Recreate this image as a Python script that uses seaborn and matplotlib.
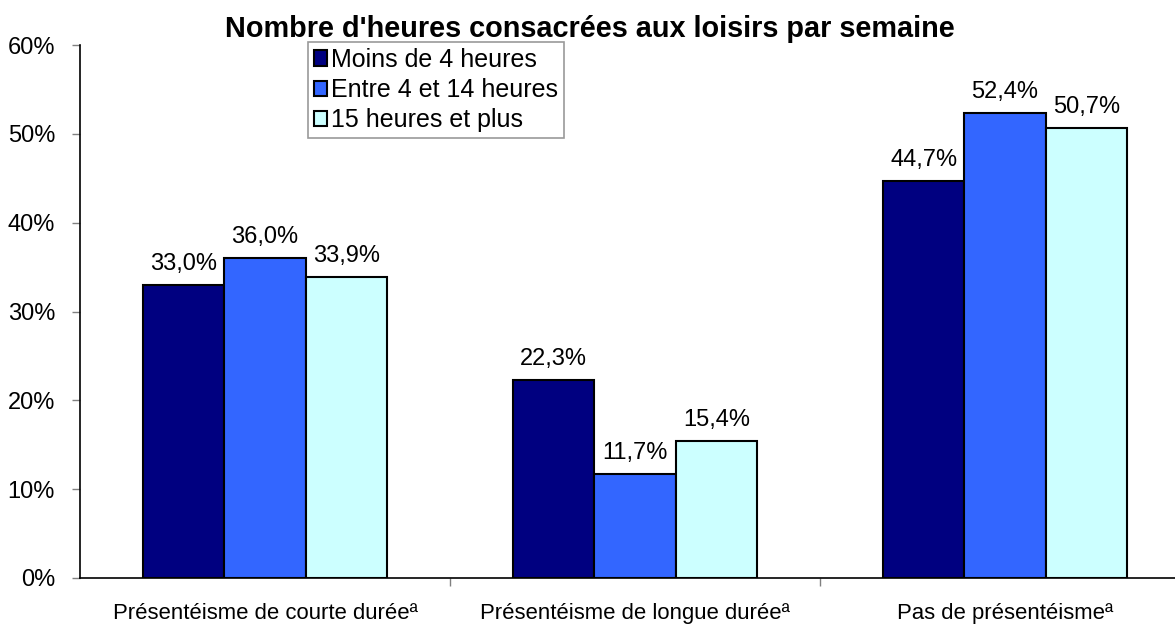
import matplotlib
matplotlib.use("Agg")
import matplotlib.pyplot as plt
from matplotlib.ticker import FixedLocator, FuncFormatter
import seaborn as sns
import pandas as pd

categories = ["Présentéisme de courte duréeª",
              "Présentéisme de longue duréeª",
              "Pas de présentéismeª"]
groups = ["Moins de 4 heures", "Entre 4 et 14 heures", "15 heures et plus"]
moins_4h = [33.0, 22.3, 44.7]
entre_4_14h = [36.0, 11.7, 52.4]
plus_15h = [33.9, 15.4, 50.7]
colors = ["#000080", "#3366FF", "#CCFFFF"]

rows = []
for g, vals in zip(groups, [moins_4h, entre_4_14h, plus_15h]):
    for c, v in zip(categories, vals):
        rows.append({"cat": c, "groupe": g, "val": v})
df = pd.DataFrame(rows)

sns.set_theme(style="white")
plt.rcParams["font.family"] = ["Liberation Sans", "DejaVu Sans"]

fig = plt.figure(figsize=(11.75, 6.27), dpi=100)
ax = fig.add_axes([80 / 1175, 1 - 578 / 627, 1110 / 1175, 533 / 627])

sns.barplot(data=df, x="cat", y="val", hue="groupe", order=categories,
            hue_order=groups, palette=colors, width=0.66, ax=ax,
            edgecolor="black", linewidth=1.5, saturation=1)

for cont in ax.containers:
    ax.bar_label(cont, labels=[f"{b.get_height():.1f}%".replace(".", ",") for b in cont],
                 padding=7, fontsize=17, color="black")

ax.set_xlim(-0.5, 2.5)
ax.set_ylim(0, 60)
ax.set_yticks(range(0, 61, 10))
ax.yaxis.set_major_formatter(FuncFormatter(lambda v, p: f"{int(v)}%"))
ax.tick_params(axis="y", direction="out", length=6, width=1, color="#808080",
               labelsize=17, labelcolor="black", pad=12, left=True)
ax.tick_params(axis="x", which="major", length=0, labelsize=15.9,
               labelcolor="black", pad=18)
ax.xaxis.set_minor_locator(FixedLocator([0.5, 1.5]))
ax.tick_params(axis="x", which="minor", direction="out", length=6, width=1,
               color="#808080", bottom=True)
ax.set_xlabel("")
ax.set_ylabel("")
for side in ["top", "right"]:
    ax.spines[side].set_visible(False)
for side in ["left", "bottom"]:
    ax.spines[side].set_color("black")
    ax.spines[side].set_linewidth(1.2)

leg = ax.legend(loc="upper left", bbox_to_anchor=((308 - 80) / 1110, 1.005),
                fontsize=18, frameon=True, fancybox=False, edgecolor="#808080",
                handlelength=0.55, handleheight=0.55, handletextpad=0.15,
                borderpad=0.22, labelspacing=0.25, borderaxespad=0)
leg.get_frame().set_linewidth(1.2)
for t in leg.get_texts():
    t.set_color("black")

fig.text(590 / 1175, 1 - 29 / 627, "Nombre d'heures consacrées aux loisirs par semaine",
         ha="center", va="center", fontsize=20.8, fontweight="bold", color="black")

fig.savefig("out.png", dpi=100)
